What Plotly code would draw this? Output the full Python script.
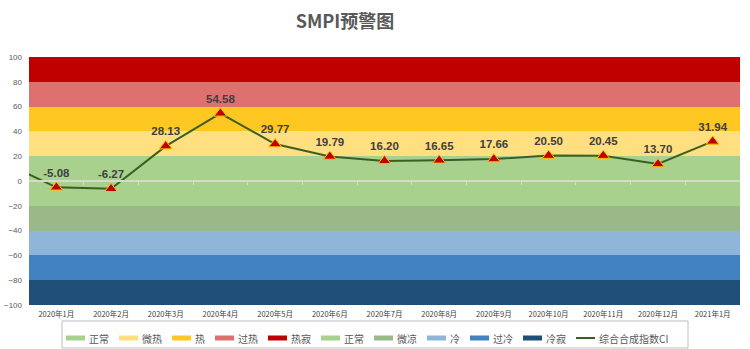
import plotly.graph_objects as go

# ---------------- data ----------------
months = ["2019年12月", "2020年1月", "2020年2月", "2020年3月", "2020年4月", "2020年5月",
          "2020年6月", "2020年7月", "2020年8月", "2020年9月", "2020年10月",
          "2020年11月", "2020年12月", "2021年1月"]
ci_values = [15.9, -5.08, -6.27, 28.13, 54.58, 29.77, 19.79, 16.20, 16.65,
             17.66, 20.50, 20.45, 13.70, 31.94]
tick_labels = months[1:]
y_ticks = [-100, -80, -60, -40, -20, 0, 20, 40, 60, 80, 100]

band_names = ["正常", "微热", "热", "过热", "热寂", "正常", "微凉", "冷", "过冷", "冷寂"]
band_low = [0, 20, 40, 60, 80, -20, -40, -60, -80, -100]
band_high = [20, 40, 60, 80, 100, 0, -20, -40, -60, -80]
band_colors = ["#A9D18E", "#FFDF80", "#FFC722", "#DE7070", "#C00000",
               "#A9D18E", "#9BB888", "#8FB5DB", "#4382C1", "#1F4E79"]
line_name = "综合合成指数CI"
line_color = "#3A5E23"

# ---------------- geometry helpers (layout only) ----------------
W, H = 750, 349
L, R, T, B = 29, 10, 57, 44
PW, PH = W - L - R, H - T - B


def px_x(p):
    return (p - L) / PW


def px_y(p):
    return (H - B - p) / PH


n = len(tick_labels)
xs = list(range(-1, n))
center = (n - 1) / 2

fig = go.Figure()

# bands as bars spanning the full category range
for name, lo, hi, col in zip(band_names, band_low, band_high, band_colors):
    fig.add_trace(go.Bar(
        x=[center], y=[hi - lo], base=[lo], width=[n],
        marker=dict(color=col, line=dict(width=0)),
        name=name, showlegend=False, hoverinfo="skip",
    ))

# CI line
fig.add_trace(go.Scatter(
    x=xs, y=ci_values, mode="lines", xaxis="x2",
    line=dict(color=line_color, width=2),
    name=line_name, showlegend=False, hoverinfo="skip",
))
fig.add_trace(go.Scatter(
    x=xs[1:], y=ci_values[1:], mode="markers+text", xaxis="x2",
    marker=dict(symbol="triangle-up", size=11, color="#C00000",
                line=dict(color="#FFC000", width=1)),
    text=[f"{v:.2f}" for v in ci_values[1:]],
    textposition="top center",
    textfont=dict(family="Liberation Sans", size=11.5, color="#404040", weight="bold"),
    showlegend=False, hoverinfo="skip",
))

# ---------------- manual legend ----------------
shapes = []
annotations = []
shapes.append(dict(type="rect", xref="paper", yref="paper",
                   x0=px_x(62), x1=px_x(688), y0=px_y(321), y1=px_y(348),
                   line=dict(color="#BFBFBF", width=1), fillcolor="rgba(0,0,0,0)",
                   layer="above"))


def text_w(s):
    return sum(10 if ord(c) > 255 else 5 for c in s)


cur = 66
cy = 338
entries = list(zip(band_names, band_colors)) + [(line_name, line_color)]
for i, (name, col) in enumerate(entries):
    if i == len(entries) - 1:
        shapes.append(dict(type="line", xref="paper", yref="paper",
                           x0=px_x(cur), x1=px_x(cur + 19), y0=px_y(cy), y1=px_y(cy),
                           line=dict(color=col, width=2)))
    else:
        shapes.append(dict(type="rect", xref="paper", yref="paper",
                           x0=px_x(cur), x1=px_x(cur + 19),
                           y0=px_y(cy + 2.5), y1=px_y(cy - 2.5),
                           line=dict(width=0), fillcolor=col))
    annotations.append(dict(xref="paper", yref="paper", x=px_x(cur + 21), y=px_y(cy),
                            xanchor="left", yanchor="middle", showarrow=False,
                            text=name,
                            font=dict(family="Noto Sans CJK SC", size=10, color="#595959")))
    cur += 19 + 3 + text_w(name) + 11

fig.update_layout(
    width=W, height=H,
    margin=dict(l=L, r=R, t=T, b=B, autoexpand=False),
    paper_bgcolor="white", plot_bgcolor="white",
    barmode="overlay", bargap=0,
    showlegend=False,
    title=dict(text="SMPI预警图", x=345 / W, xref="container", xanchor="center",
               y=1 - 22 / H, yref="container", yanchor="middle",
               font=dict(family="Noto Sans CJK SC", size=18, color="#595959", weight="bold")),
    xaxis=dict(range=[-0.5, n - 0.5], tickvals=list(range(n)), ticktext=tick_labels,
               tickfont=dict(family="Noto Sans CJK SC", size=7.5, color="#404040"),
               showgrid=False, zeroline=False, showline=False, ticks="",
               ticklabelstandoff=3, fixedrange=True, automargin=False),
    xaxis2=dict(range=[-0.5, n - 0.5], overlaying="x", anchor="free", position=0.5,
                showline=True, linecolor="#D3DBCC", linewidth=1.5,
                ticks="outside", ticklen=3, tickcolor="#D3DBCC", tickwidth=1,
                tickvals=[i + 0.5 for i in range(n - 1)], showticklabels=False,
                showgrid=False, zeroline=False, fixedrange=True, automargin=False),
    yaxis=dict(range=[-100, 100], tickvals=y_ticks,
               tickfont=dict(family="Liberation Sans", size=8, color="#595959"),
               showgrid=False, zeroline=False, showline=False, ticks="",
               ticklabelstandoff=6, fixedrange=True, automargin=False),
    shapes=shapes,
    annotations=annotations,
)

fig.write_html("out.html")
